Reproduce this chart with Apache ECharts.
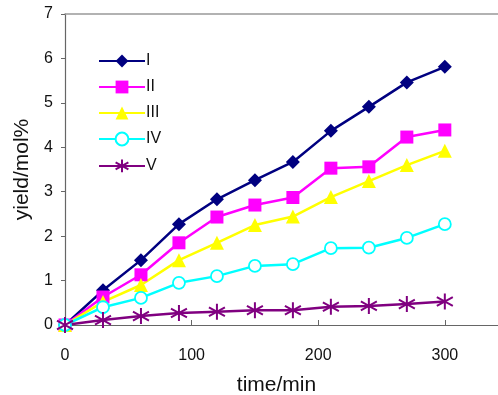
<!DOCTYPE html>
<html>
<head>
<meta charset="utf-8">
<script src="https://cdn.jsdelivr.net/npm/echarts@6/dist/echarts.min.js"></script>
<style>
  html, body { margin: 0; padding: 0; background: #fff; }
  #main { width: 498px; height: 395px; }
</style>
</head>
<body>
<div id="main"></div>
<script>
var chartDom = document.getElementById('main');
var myChart = echarts.init(chartDom);
var option;

let times = [0, 30, 60, 90, 120, 150, 180, 210, 240, 270, 300];
let yieldI   = [0, 0.78, 1.46, 2.27, 2.83, 3.26, 3.67, 4.37, 4.91, 5.46, 5.81];
let yieldII  = [0, 0.63, 1.13, 1.85, 2.43, 2.70, 2.87, 3.53, 3.56, 4.23, 4.39];
let yieldIII = [0, 0.52, 0.90, 1.46, 1.85, 2.25, 2.44, 2.88, 3.24, 3.60, 3.92];
let yieldIV  = [0, 0.40, 0.61, 0.95, 1.10, 1.33, 1.37, 1.73, 1.74, 1.96, 2.27];
let yieldV   = [0, 0.11, 0.20, 0.27, 0.30, 0.33, 0.33, 0.41, 0.43, 0.47, 0.53];
let names = ['I', 'II', 'III', 'IV', 'V'];

function pairs(ys) {
  return times.map(function (t, i) { return [t, ys[i]]; });
}

// asterisk marker: vertical stroke + two diagonals
let starPath = 'path://M10,0L10,20M1.5,4.5L18.5,15.5M1.5,15.5L18.5,4.5';
let font = 'Liberation Sans, Arial, sans-serif';

function serie(name, data, color, symbol, size, extra) {
  let s = {
    name: name,
    type: 'line',
    data: pairs(data),
    symbol: symbol,
    symbolSize: size,
    showAllSymbol: true,
    lineStyle: { color: color, width: 2.5 },
    itemStyle: { color: color },
    z: 2
  };
  return Object.assign(s, extra || {});
}

option = {
  animation: false,
  grid: { left: 65, top: 14, right: 0, bottom: 70, outerBoundsMode: 'none' },
  legend: {
    orient: 'vertical',
    left: 93,
    top: 48,
    itemWidth: 46,
    itemHeight: 16,
    itemGap: 10,
    textStyle: { fontFamily: font, fontSize: 16, color: '#111', padding: [0, 0, 0, -4] },
    data: names
  },
  xAxis: [
    {
      type: 'value',
      min: 0,
      max: 342,
      interval: 100,
      name: 'time/min',
      nameLocation: 'middle',
      nameGap: 50,
      nameTextStyle: { fontFamily: font, fontSize: 21, color: '#111', padding: [0, 10, 0, 0] },
      axisLine: { show: true, lineStyle: { color: '#666', width: 1.2 } },
      axisTick: { show: true, inside: true, length: 5, lineStyle: { color: '#666' } },
      axisLabel: { fontFamily: font, fontSize: 16, color: '#111', margin: 23, showMaxLabel: false },
      splitLine: { show: false }
    },
    {
      type: 'value',
      position: 'top',
      min: 0,
      max: 342,
      axisLine: { show: true, onZero: false, lineStyle: { color: '#999', width: 1.5 } },
      axisTick: { show: false },
      axisLabel: { show: false },
      splitLine: { show: false }
    }
  ],
  yAxis: {
    type: 'value',
    min: 0,
    max: 7,
    interval: 1,
    name: 'yield/mol%',
    nameLocation: 'middle',
    nameGap: 27,
    nameTextStyle: { fontFamily: font, fontSize: 21, color: '#111' },
    axisLine: { show: true, lineStyle: { color: '#666', width: 1.2 } },
    axisTick: { show: true, length: 4, lineStyle: { color: '#666' } },
    axisLabel: { fontFamily: font, fontSize: 16, color: '#111', margin: 12 },
    splitLine: { show: false }
  },
  series: [
    serie('I', yieldI, '#000080', 'diamond', 14),
    serie('II', yieldII, '#ff00ff', 'rect', 13),
    serie('III', yieldIII, '#ffff00', 'triangle', 14),
    serie('IV', yieldIV, '#00ffff', 'circle', 12, {
      itemStyle: { color: '#fff', borderColor: '#00ffff', borderWidth: 1.8 }
    }),
    serie('V', yieldV, '#800080', starPath, 16, {
      itemStyle: { color: 'none', borderColor: '#800080', borderWidth: 2 }
    })
  ]
};

option && myChart.setOption(option);
</script>
</body>
</html>
